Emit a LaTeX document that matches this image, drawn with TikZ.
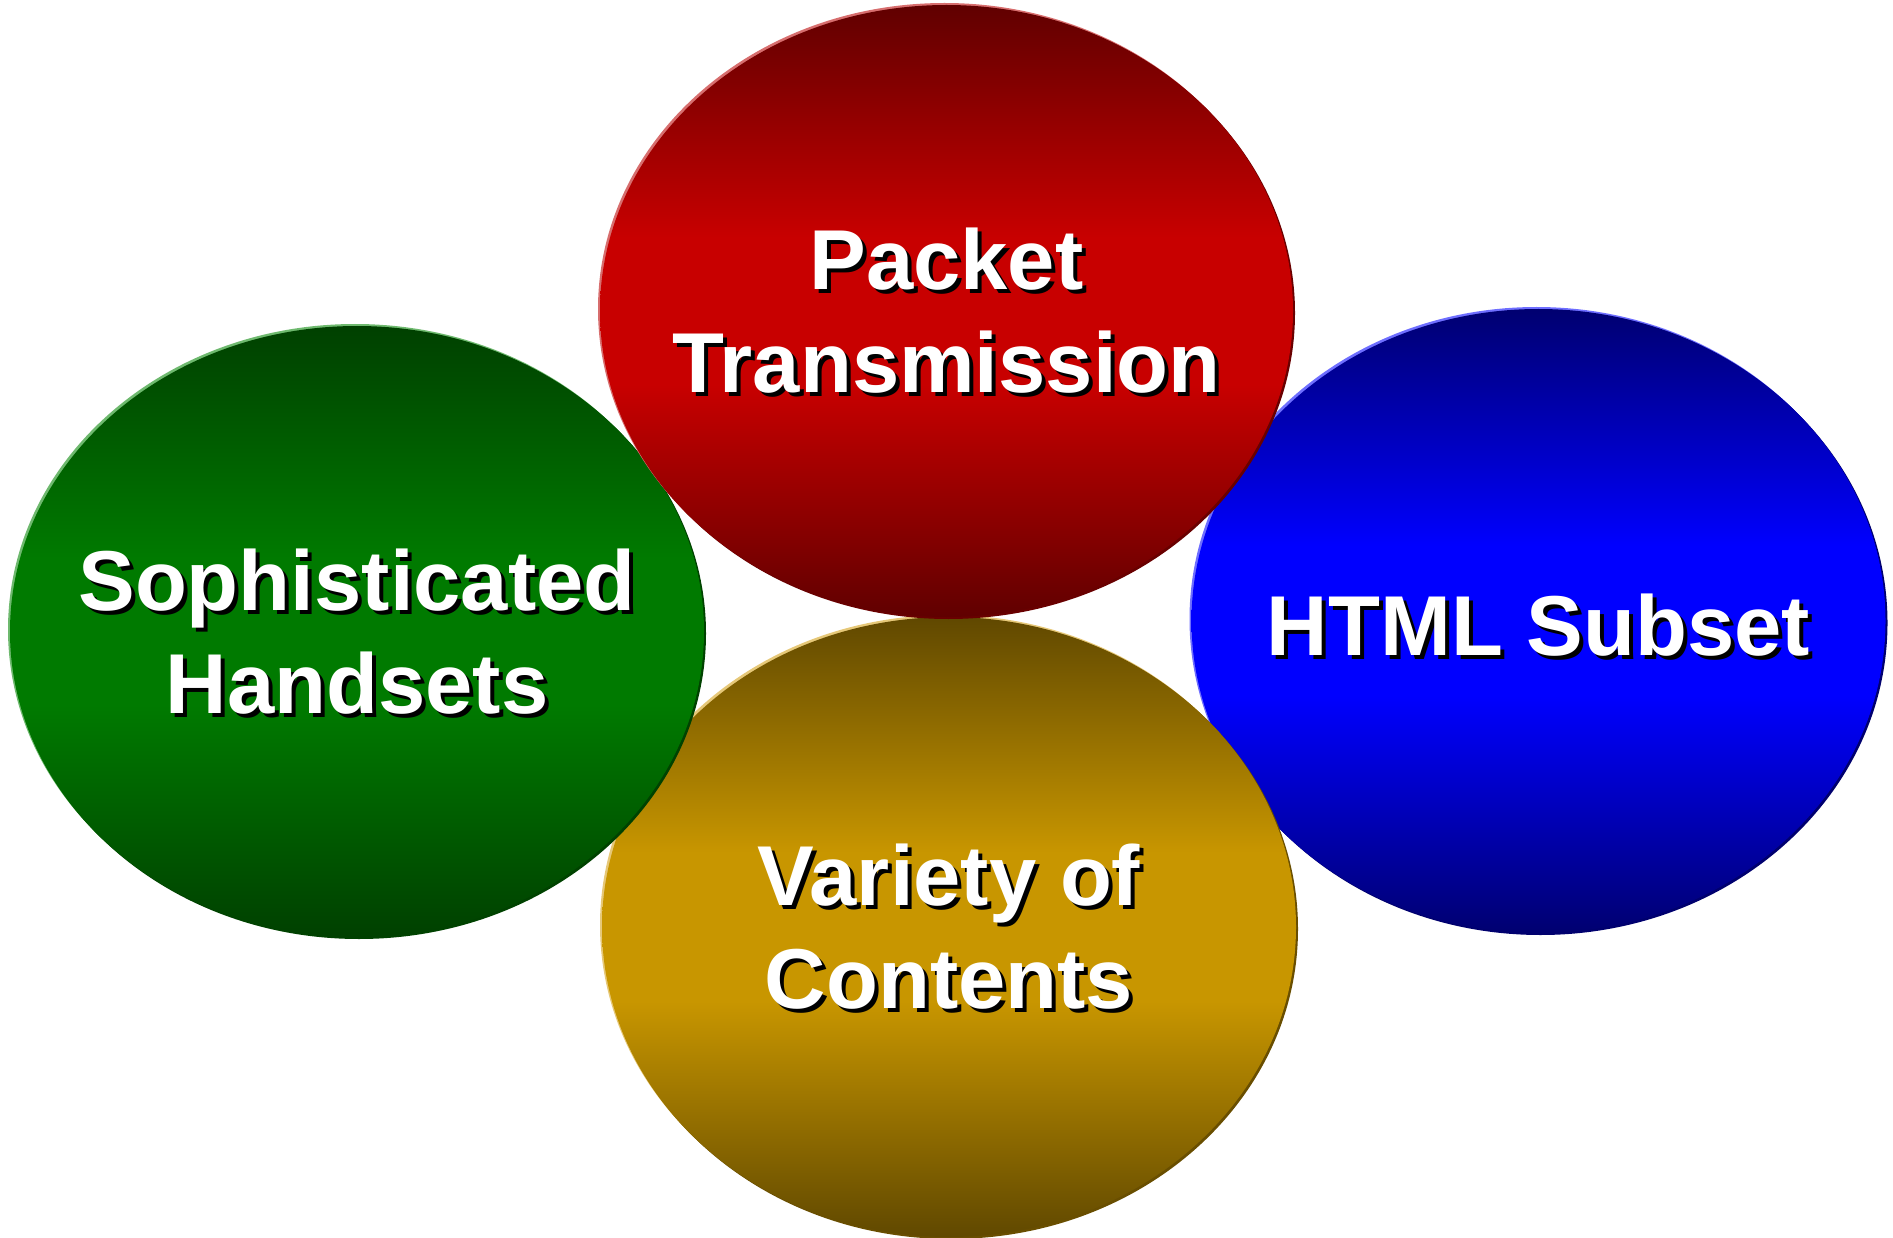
\documentclass[tikz,border=0pt]{standalone}
\usepackage{fontspec}
\setmainfont{Liberation Sans}
\usetikzlibrary{shapes.geometric}
\definecolor{rdark}{RGB}{96,0,0}
\definecolor{rmid}{RGB}{200,0,0}
\definecolor{rlight}{RGB}{215,110,110}
\definecolor{rrim}{RGB}{105,0,0}
\definecolor{gdark}{RGB}{0,64,0}
\definecolor{gmid}{RGB}{0,122,0}
\definecolor{glight}{RGB}{110,185,110}
\definecolor{grim}{RGB}{0,66,0}
\definecolor{bdark}{RGB}{0,0,112}
\definecolor{bmid}{RGB}{0,0,255}
\definecolor{blight}{RGB}{110,110,255}
\definecolor{brim}{RGB}{0,0,110}
\definecolor{odark}{RGB}{96,72,0}
\definecolor{omid}{RGB}{200,150,0}
\definecolor{olight}{RGB}{230,200,120}
\definecolor{orim}{RGB}{105,78,0}
\pgfdeclareverticalshading{redsh}{100bp}{color(0bp)=(rdark); color(25bp)=(rdark); color(44bp)=(rmid); color(56bp)=(rmid); color(75bp)=(rdark); color(100bp)=(rdark)}
\pgfdeclareverticalshading{greensh}{100bp}{color(0bp)=(gdark); color(25bp)=(gdark); color(44bp)=(gmid); color(56bp)=(gmid); color(75bp)=(gdark); color(100bp)=(gdark)}
\pgfdeclareverticalshading{bluesh}{100bp}{color(0bp)=(bdark); color(25bp)=(bdark); color(44bp)=(bmid); color(56bp)=(bmid); color(75bp)=(bdark); color(100bp)=(bdark)}
\pgfdeclareverticalshading{goldsh}{100bp}{color(0bp)=(odark); color(25bp)=(odark); color(44bp)=(omid); color(56bp)=(omid); color(75bp)=(odark); color(100bp)=(odark)}
\tikzset{
  oval/.style={ellipse, inner sep=0pt, draw=none},
  bigR/.style={oval, minimum width=693pt, minimum height=612pt},
  bigG/.style={oval, minimum width=694pt, minimum height=611pt},
  bigB/.style={oval, minimum width=694pt, minimum height=624pt},
  bigO/.style={oval, minimum width=694pt, minimum height=620pt},
  lbl/.style={text=white, font=\fontsize{85}{103}\selectfont\bfseries, align=center, inner sep=0pt},
  shd/.style={lbl, text=black}
}
\begin{document}
\begin{tikzpicture}[x=1pt,y=-1pt]
\useasboundingbox (0,0) rectangle (1893,1238);
% blue (back)
\node[bigB, fill=blight] (Bl) at (1536.5,619) {};
\node[bigB, fill=brim] (Bd) at (1540.5,623) {};
\node[bigB, shade, shading=bluesh] (B) at (1538.5,621) {};
\node[shd] (Bs) at ([shift={(4,8)}]B.center) {HTML Subset};
\node[lbl] (Bt) at ([shift={(0,4)}]B.center) {HTML Subset};
% gold
\node[bigO, fill=olight] (Ol) at (947,925) {};
\node[bigO, fill=orim] (Od) at (951,929) {};
\node[bigO, shade, shading=goldsh] (O) at (949,927) {};
\node[shd] (Os) at ([shift={(4,4)}]O.center) {Variety of\\Contents};
\node[lbl] (Ot) at (O.center) {Variety of\\Contents};
% green
\node[bigG, fill=glight] (Gl) at (355,629.5) {};
\node[bigG, fill=grim] (Gd) at (359,633.5) {};
\node[bigG, shade, shading=greensh] (G) at (357,631.5) {};
\node[shd] (Gs) at ([shift={(4,4)}]G.center) {Sophisticated\\Handsets};
\node[lbl] (Gt) at (G.center) {Sophisticated\\Handsets};
% red (front)
\node[bigR, fill=rlight] (Rl) at (944.5,309) {};
\node[bigR, fill=rrim] (Rd) at (948.5,313) {};
\node[bigR, shade, shading=redsh] (R) at (946.5,311) {};
\node[shd] (Rs) at ([shift={(4,4)}]R.center) {Packet\\Transmission};
\node[lbl] (Rt) at (R.center) {Packet\\Transmission};
\end{tikzpicture}
\end{document}
